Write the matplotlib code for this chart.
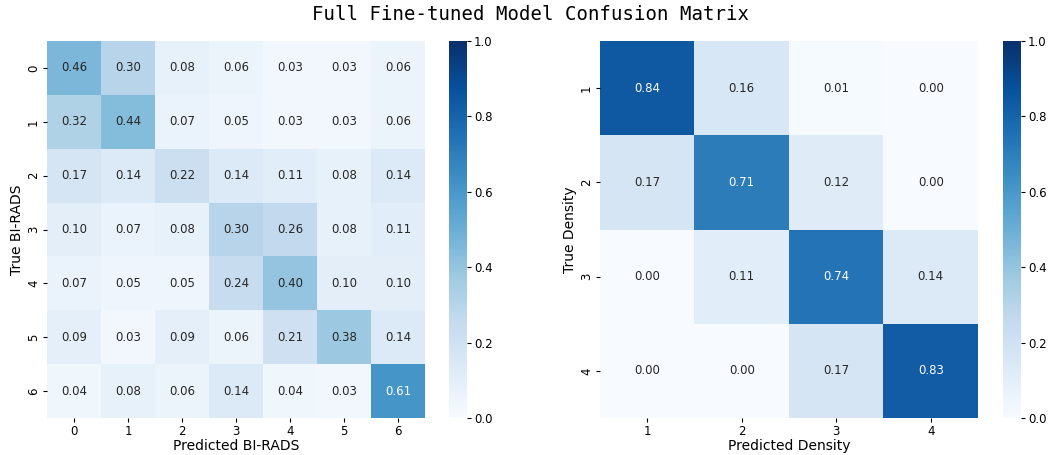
import numpy as np
import matplotlib
matplotlib.use("Agg")
import matplotlib.pyplot as plt
import seaborn as sns

birads_labels = ["0", "1", "2", "3", "4", "5", "6"]
birads_cm = np.array([
    [0.46, 0.30, 0.08, 0.06, 0.03, 0.03, 0.06],
    [0.32, 0.44, 0.07, 0.05, 0.03, 0.03, 0.06],
    [0.17, 0.14, 0.22, 0.14, 0.11, 0.08, 0.14],
    [0.10, 0.07, 0.08, 0.30, 0.26, 0.08, 0.11],
    [0.07, 0.05, 0.05, 0.24, 0.40, 0.10, 0.10],
    [0.09, 0.03, 0.09, 0.06, 0.21, 0.38, 0.14],
    [0.04, 0.08, 0.06, 0.14, 0.04, 0.03, 0.61],
])

density_labels = ["1", "2", "3", "4"]
density_cm = np.array([
    [0.84, 0.16, 0.01, 0.00],
    [0.17, 0.71, 0.12, 0.00],
    [0.00, 0.11, 0.74, 0.14],
    [0.00, 0.00, 0.17, 0.83],
])

fig = plt.figure(figsize=(10.5, 4.55), dpi=100)

ax1 = fig.add_axes([0.0448, 0.0813, 0.36, 0.8286])
cax1 = fig.add_axes([0.4276, 0.0813, 0.0171, 0.8286])
ax2 = fig.add_axes([0.5714, 0.0813, 0.36, 0.8286])
cax2 = fig.add_axes([0.9552, 0.0813, 0.0171, 0.8286])

sns.heatmap(birads_cm, ax=ax1, cbar_ax=cax1, cmap="Blues", vmin=0, vmax=1,
            annot=True, fmt=".2f", annot_kws={"size": 8.5},
            xticklabels=birads_labels, yticklabels=birads_labels)
ax1.set_xlabel("Predicted BI-RADS", fontsize=10, labelpad=1)
ax1.set_ylabel("True BI-RADS", fontsize=10, labelpad=2)

sns.heatmap(density_cm, ax=ax2, cbar_ax=cax2, cmap="Blues", vmin=0, vmax=1,
            annot=True, fmt=".2f", annot_kws={"size": 8.5},
            xticklabels=density_labels, yticklabels=density_labels)
ax2.set_xlabel("Predicted Density", fontsize=10, labelpad=1)
ax2.set_ylabel("True Density", fontsize=10, labelpad=2)

for ax in (ax1, ax2, cax1, cax2):
    ax.tick_params(labelsize=8.5, length=3, pad=2)

fig.suptitle("Full Fine-tuned Model Confusion Matrix", fontsize=13.7,
             family="DejaVu Sans Mono", x=0.505, y=0.988)

fig.savefig("out.png", dpi=100)
